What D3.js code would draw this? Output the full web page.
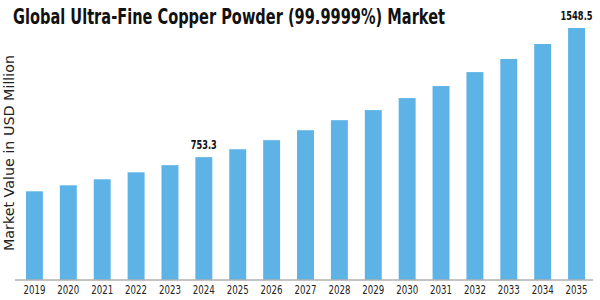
<!DOCTYPE html>
<html>
<head>
<meta charset="utf-8">
<script src="https://cdn.jsdelivr.net/npm/d3@7"></script>
<style>
  body { margin: 0; background: #fff; }
  svg { display: block; }
</style>
</head>
<body>
<svg id="chart"></svg>
<script>
// chart data
const years = ['2019', '2020', '2021', '2022', '2023', '2024', '2025', '2026', '2027',
               '2028', '2029', '2030', '2031', '2032', '2033', '2034', '2035'];
const values = [543, 580, 617, 660, 704, 753.3, 802, 858, 919,
                981, 1043, 1117, 1191, 1277, 1358, 1450, 1548.5];
const labelled = ['2024', '2035'];

const title = 'Global Ultra-Fine Copper Powder (99.9999%) Market';
const yTitle = 'Market Value in USD Million';

const width = 600;
const height = 300;

const svg = d3.select('#chart')
    .attr('width', width)
    .attr('height', height);

const data = years.map((y, i) => ({ year: y, value: values[i] }));

const x = d3.scaleBand()
    .domain(years)
    .range([17.5, 593.5])
    .paddingInner(0.5)
    .paddingOuter(0.25);

const y = d3.scaleLinear()
    .domain([0, 1548.5])
    .range([279.5, 28]);

// bars
svg.append('g')
    .selectAll('rect')
    .data(data)
    .enter()
    .append('rect')
    .attr('x', d => x(d.year))
    .attr('y', d => y(d.value))
    .attr('width', x.bandwidth())
    .attr('height', d => y(0) - y(d.value))
    .attr('fill', '#5db3e6');

// x axis
const xAxis = svg.append('g')
    .attr('transform', `translate(0,${y(0)})`)
    .call(d3.axisBottom(x).tickSize(0).tickPadding(5));
xAxis.select('.domain')
    .attr('d', `M15,0.5H593`)
    .attr('stroke', '#888')
    .attr('stroke-width', 1);
xAxis.selectAll('text')
    .attr('fill', '#222')
    .style('font-family', 'DejaVu Sans')
    .style('font-size', '13px')
    .attr('textLength', 22)
    .attr('lengthAdjust', 'spacingAndGlyphs');

// value labels
svg.append('g')
    .selectAll('text')
    .data(data.filter(d => labelled.includes(d.year)))
    .enter()
    .append('text')
    .attr('x', d => x(d.year) + x.bandwidth() / 2)
    .attr('y', d => y(d.value) - 8)
    .attr('text-anchor', 'middle')
    .style('font-family', 'DejaVu Sans')
    .style('font-weight', 'bold')
    .style('font-size', '12px')
    .attr('fill', '#111')
    .attr('textLength', d => d.value >= 1000 ? 32 : 26)
    .attr('lengthAdjust', 'spacingAndGlyphs')
    .text(d => d.value.toFixed(1));

// title
svg.append('text')
    .attr('x', 13)
    .attr('y', 24)
    .style('font-family', 'DejaVu Sans')
    .style('font-weight', 'bold')
    .style('font-size', '22px')
    .attr('fill', '#111')
    .attr('textLength', 432)
    .attr('lengthAdjust', 'spacingAndGlyphs')
    .text(title);

// y axis title
svg.append('text')
    .attr('transform', 'translate(14,153) rotate(-90)')
    .attr('text-anchor', 'middle')
    .style('font-family', 'DejaVu Sans')
    .style('font-size', '14.3px')
    .attr('fill', '#222')
    .text(yTitle);
</script>
</body>
</html>
